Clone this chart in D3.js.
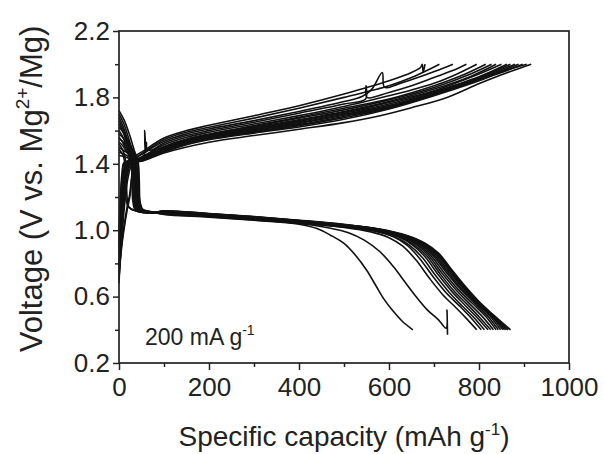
<!DOCTYPE html>
<html><head><meta charset="utf-8">
<script src="https://cdn.jsdelivr.net/npm/d3@7"></script>
<style>
body{margin:0;background:#fff}
svg{display:block}
text{font-family:"Liberation Sans",Arial,sans-serif;fill:#222}
</style>
</head><body>
<svg id="chart" width="604" height="454"></svg>
<script>
// ---- tick values ----
const xTicks = [0, 200, 400, 600, 800, 1000];
const xMinorTicks = [100, 300, 500, 700, 900];
const yTicks = [0.2, 0.6, 1.0, 1.4, 1.8, 2.2];
const yMinorTicks = [0.4, 0.8, 1.2, 1.6, 2.0];

// ---- discharge curves: [capacity mAh/g, voltage V] ----
const dischargeCycles = [
 [[0,1.72],[12,1.66],[24,1.57],[34,1.48],[41,1.42],[44,1.3],[46,1.17],[52,1.125],[70,1.112],[100,1.095],[200,1.079],[300,1.06],[400,1.036],[440,1.01],[470,0.97],[500,0.92],[525,0.85],[550,0.76],[570,0.67],[590,0.58],[610,0.51],[630,0.45],[653,0.4]],
 [[0,1.70],[11,1.64],[22,1.55],[31,1.47],[38,1.42],[41,1.3],[43,1.17],[49,1.125],[70,1.11],[100,1.097],[200,1.081],[300,1.062],[400,1.04],[470,1.012],[510,0.985],[545,0.94],[580,0.87],[610,0.78],[635,0.69],[660,0.6],[685,0.52],[710,0.46],[727,0.41],[729,0.52],[730,0.37]],
 [[0,1.68],[10,1.62],[20,1.54],[29,1.47],[36,1.42],[39,1.3],[41,1.17],[47,1.125],[70,1.11],[100,1.099],[200,1.083],[300,1.064],[400,1.042],[500,1.017],[560,0.99],[600,0.955],[630,0.905],[660,0.82],[690,0.71],[720,0.61],[750,0.53],[775,0.46],[795,0.4]],
 [[0,1.66],[10,1.6],[19,1.53],[27,1.47],[34,1.42],[37,1.3],[39,1.17],[45,1.124],[70,1.108],[100,1.107],[200,1.091],[300,1.072],[400,1.05],[500,1.025],[565,1.0],[610,0.96],[640,0.91],[668,0.83],[698,0.72],[728,0.62],[758,0.54],[783,0.47],[805,0.4]],
 [[0,1.64],[9,1.59],[18,1.52],[26,1.46],[32,1.42],[35,1.3],[37,1.17],[43,1.123],[70,1.108],[100,1.101],[200,1.085],[300,1.066],[400,1.044],[500,1.019],[565,0.995],[615,0.957],[646,0.908],[674,0.835],[704,0.725],[734,0.625],[764,0.54],[790,0.47],[812,0.4]],
 [[0,1.62],[12,1.58],[24,1.52],[35,1.46],[42,1.42],[45,1.3],[47,1.17],[53,1.125],[75,1.11],[100,1.109],[200,1.093],[300,1.074],[400,1.052],[500,1.027],[570,1.0],[620,0.962],[652,0.912],[680,0.84],[710,0.73],[740,0.63],[770,0.545],[797,0.47],[820,0.4]],
 [[0,1.6],[9,1.56],[17,1.5],[25,1.45],[31,1.42],[33,1.3],[35,1.17],[41,1.122],[70,1.106],[100,1.103],[200,1.087],[300,1.068],[400,1.046],[500,1.021],[570,0.997],[622,0.96],[655,0.913],[684,0.845],[714,0.735],[744,0.635],[775,0.55],[803,0.47],[826,0.4]],
 [[0,1.58],[11,1.55],[22,1.5],[33,1.45],[40,1.42],[43,1.3],[45,1.17],[51,1.124],[75,1.108],[100,1.111],[200,1.095],[300,1.076],[400,1.054],[500,1.029],[572,1.002],[625,0.964],[659,0.916],[688,0.848],[718,0.74],[749,0.64],[780,0.555],[809,0.475],[832,0.4]],
 [[0,1.56],[8,1.53],[16,1.49],[24,1.45],[29,1.42],[31,1.3],[33,1.17],[39,1.12],[70,1.104],[100,1.105],[200,1.089],[300,1.07],[400,1.048],[500,1.023],[574,0.998],[628,0.962],[663,0.915],[692,0.85],[722,0.745],[753,0.645],[785,0.56],[815,0.48],[838,0.4]],
 [[0,1.55],[10,1.53],[20,1.49],[30,1.45],[37,1.42],[39,1.3],[41,1.17],[47,1.123],[70,1.106],[100,1.113],[200,1.097],[300,1.078],[400,1.056],[500,1.031],[575,1.004],[630,0.965],[666,0.918],[696,0.853],[726,0.75],[757,0.65],[789,0.563],[820,0.48],[843,0.4]],
 [[0,1.53],[8,1.51],[15,1.48],[22,1.45],[27,1.42],[29,1.3],[31,1.17],[37,1.12],[70,1.104],[100,1.107],[200,1.091],[300,1.072],[400,1.05],[500,1.025],[576,1.0],[632,0.963],[669,0.917],[699,0.855],[729,0.752],[760,0.652],[792,0.565],[824,0.483],[848,0.4]],
 [[0,1.52],[5,1.5],[10,1.47],[14,1.43],[16,1.35],[18,1.2],[22,1.14],[35,1.118],[70,1.104],[100,1.115],[200,1.099],[300,1.08],[400,1.058],[500,1.033],[577,1.006],[634,0.967],[672,0.92],[702,0.857],[732,0.755],[763,0.655],[794,0.566],[827,0.485],[853,0.4]],
 [[0,1.5],[10,1.48],[22,1.46],[32,1.44],[39,1.42],[41,1.3],[43,1.17],[49,1.123],[75,1.106],[100,1.109],[200,1.093],[300,1.074],[400,1.052],[500,1.027],[578,1.002],[636,0.965],[675,0.919],[705,0.858],[735,0.757],[765,0.656],[796,0.568],[828,0.486],[857,0.4]],
 [[0,1.49],[5,1.47],[9,1.45],[12,1.42],[14,1.3],[16,1.18],[21,1.14],[35,1.118],[70,1.103],[100,1.115],[200,1.099],[300,1.08],[400,1.058],[500,1.033],[579,1.006],[637,0.968],[677,0.922],[707,0.86],[737,0.758],[767,0.658],[798,0.569],[829,0.488],[861,0.4]],
 [[0,1.47],[10,1.46],[20,1.445],[28,1.43],[33,1.415],[35,1.3],[37,1.17],[43,1.122],[70,1.105],[100,1.111],[200,1.095],[300,1.076],[400,1.054],[500,1.029],[580,1.003],[638,0.966],[678,0.92],[708,0.86],[738,0.76],[768,0.66],[799,0.57],[830,0.49],[865,0.4]],
 [[0,1.45],[10,1.445],[20,1.435],[30,1.425],[37,1.415],[39,1.3],[41,1.17],[47,1.123],[75,1.105],[100,1.117],[200,1.101],[300,1.082],[400,1.06],[500,1.035],[580,1.007],[640,0.968],[680,0.922],[710,0.862],[740,0.76],[770,0.66],[800,0.57],[832,0.49],[870,0.4]]
];

// ---- charge curves: [capacity mAh/g, voltage V] ----
const chargeCycles = [
 [[0,0.95],[4,1.15],[8,1.3],[12,1.38],[20,1.42],[50,1.47],[100,1.555],[150,1.6],[200,1.632],[300,1.69],[400,1.75],[500,1.82],[600,1.9],[650,1.95],[670,1.98],[674,2.0],[676,1.95],[680,2.0]],
 [[0,0.9],[3,1.05],[7,1.22],[11,1.34],[16,1.4],[50,1.46],[100,1.545],[150,1.59],[200,1.62],[300,1.675],[400,1.735],[500,1.8],[600,1.87],[650,1.92],[690,1.97],[712,2.0]],
 [[0,0.85],[3,1.0],[7,1.18],[12,1.32],[18,1.4],[50,1.455],[100,1.535],[150,1.58],[200,1.61],[300,1.66],[400,1.715],[500,1.775],[540,1.805],[562,1.85],[585,1.95],[590,1.86],[620,1.88],[680,1.935],[720,1.975],[742,2.0]],
 [[0,0.8],[3,0.95],[8,1.15],[14,1.3],[20,1.39],[30,1.42],[55,1.45],[57,1.6],[58,1.48],[61,1.53],[62,1.49],[70,1.48],[100,1.525],[150,1.57],[200,1.6],[300,1.65],[400,1.705],[500,1.76],[548,1.79],[549,1.87],[551,1.8],[600,1.83],[650,1.87],[700,1.92],[740,1.96],[772,2.0]],
 [[0,0.75],[3,0.88],[8,1.08],[14,1.25],[20,1.36],[28,1.41],[50,1.44],[100,1.515],[150,1.56],[200,1.59],[300,1.64],[400,1.69],[500,1.745],[600,1.81],[650,1.845],[700,1.885],[750,1.94],[795,2.0]],
 [[0,0.7],[2,0.8],[6,0.92],[12,1.04],[18,1.14],[24,1.22],[28,1.32],[33,1.39],[40,1.42],[100,1.505],[150,1.55],[200,1.58],[300,1.63],[400,1.68],[500,1.735],[600,1.79],[700,1.87],[760,1.93],[815,2.0]],
 [[0,0.92],[4,1.12],[8,1.28],[13,1.37],[22,1.41],[50,1.435],[100,1.5],[150,1.545],[200,1.575],[300,1.625],[400,1.675],[500,1.725],[600,1.785],[700,1.86],[780,1.94],[828,2.0]],
 [[0,0.68],[2,0.78],[6,0.9],[12,1.02],[18,1.12],[24,1.2],[28,1.3],[32,1.38],[38,1.41],[100,1.495],[150,1.54],[200,1.57],[300,1.62],[400,1.665],[500,1.715],[600,1.775],[700,1.85],[780,1.925],[838,2.0]],
 [[0,0.9],[4,1.1],[9,1.28],[14,1.37],[22,1.41],[50,1.43],[100,1.495],[150,1.54],[200,1.568],[300,1.615],[400,1.66],[500,1.71],[600,1.77],[700,1.84],[790,1.93],[850,2.0]],
 [[0,0.85],[4,1.05],[9,1.24],[15,1.36],[24,1.41],[50,1.428],[100,1.49],[150,1.535],[200,1.563],[300,1.61],[400,1.655],[500,1.705],[600,1.76],[700,1.835],[800,1.925],[862,2.0]],
 [[0,0.78],[4,0.96],[10,1.18],[16,1.33],[26,1.41],[50,1.425],[100,1.485],[150,1.53],[200,1.56],[300,1.605],[400,1.648],[500,1.698],[600,1.752],[700,1.83],[800,1.92],[870,2.0]],
 [[0,0.8],[4,0.98],[10,1.2],[16,1.34],[26,1.41],[50,1.424],[100,1.483],[150,1.528],[200,1.557],[300,1.6],[400,1.643],[500,1.692],[600,1.746],[700,1.825],[800,1.915],[880,2.0]],
 [[0,0.76],[5,0.95],[11,1.18],[18,1.33],[28,1.41],[50,1.422],[100,1.48],[150,1.525],[200,1.553],[300,1.595],[400,1.636],[500,1.685],[600,1.74],[700,1.82],[800,1.91],[888,2.0]],
 [[0,0.72],[5,0.9],[12,1.14],[19,1.3],[30,1.4],[50,1.42],[100,1.475],[150,1.52],[200,1.55],[300,1.59],[400,1.63],[500,1.678],[600,1.735],[700,1.815],[800,1.905],[850,1.95],[897,2.0]],
 [[0,1.0],[3,1.2],[7,1.35],[12,1.41],[50,1.418],[100,1.47],[150,1.515],[200,1.545],[300,1.585],[400,1.622],[500,1.668],[600,1.73],[700,1.81],[800,1.9],[850,1.955],[906,2.0]],
 [[0,0.95],[3,1.16],[7,1.32],[12,1.4],[50,1.415],[100,1.465],[200,1.53],[300,1.57],[400,1.608],[500,1.648],[580,1.69],[650,1.738],[729,1.8],[802,1.885],[876,1.962],[916,2.0]]
];

// ---- layout ----
const plot = {left: 119, right: 569, top: 31, bottom: 363};

const svg = d3.select("#chart");
const x = d3.scaleLinear().domain([0, 1000]).range([plot.left, plot.right]);
const y = d3.scaleLinear().domain([0.2, 2.2]).range([plot.bottom, plot.top]);

const line = d3.line()
  .x(d => x(d[0])).y(d => y(d[1]))
  .curve(d3.curveCatmullRom.alpha(0.5));

const curves = svg.append("g").attr("fill", "none").attr("stroke", "#111")
  .attr("stroke-width", 1.6).attr("stroke-linejoin", "round");
curves.selectAll("path.d").data(dischargeCycles).join("path")
  .attr("class", "d").attr("d", line);
curves.selectAll("path.c").data(chargeCycles).join("path")
  .attr("class", "c").attr("d", line);

// frame
const frameColor = "#222";
svg.append("rect").attr("x", plot.left).attr("y", plot.top)
  .attr("width", plot.right - plot.left).attr("height", plot.bottom - plot.top)
  .attr("fill", "none").attr("stroke", frameColor).attr("stroke-width", 1.7);

// axes
const fs = 26;
const xAxis = svg.append("g").attr("transform", `translate(0,${plot.bottom})`)
  .call(d3.axisBottom(x).tickValues(xTicks).tickSize(7).tickPadding(8).tickFormat(d3.format("d")));
const xMinor = svg.append("g").attr("transform", `translate(0,${plot.bottom})`)
  .call(d3.axisBottom(x).tickValues(xMinorTicks).tickSize(4).tickFormat(""));
const yAxis = svg.append("g").attr("transform", `translate(${plot.left},0)`)
  .call(d3.axisLeft(y).tickValues(yTicks).tickSize(6).tickPadding(3).tickFormat(d3.format(".1f")));
const yMinor = svg.append("g").attr("transform", `translate(${plot.left},0)`)
  .call(d3.axisLeft(y).tickValues(yMinorTicks).tickSize(4).tickFormat(""));

[xAxis, xMinor, yAxis, yMinor].forEach(g => {
  g.select(".domain").remove();
  g.selectAll(".tick line").attr("stroke", frameColor).attr("stroke-width", 1.5);
  g.selectAll("text").attr("font-size", fs).attr("font-family", '"Liberation Sans",Arial,sans-serif').attr("fill", "#222");
});

// x title
const xt = svg.append("text").attr("x", (plot.left + plot.right) / 2).attr("y", 446)
  .attr("text-anchor", "middle").attr("font-size", 28);
xt.append("tspan").text("Specific capacity (mAh g");
xt.append("tspan").attr("font-size", 17).attr("dy", -11).text("-1");
xt.append("tspan").attr("dy", 11).text(")");

// y title
const yt = svg.append("text").attr("transform", `translate(42,189) rotate(-90)`)
  .attr("text-anchor", "middle").attr("font-size", 31);
yt.append("tspan").text("Voltage (V vs. Mg");
yt.append("tspan").attr("font-size", 19).attr("dy", -13).text("2+");
yt.append("tspan").attr("dy", 13).text("/Mg)");

// annotation
const an = svg.append("text").attr("x", 145).attr("y", 345).attr("font-size", 23);
an.append("tspan").text("200 mA g");
an.append("tspan").attr("font-size", 14).attr("dy", -10).text("-1");
</script>
</body></html>
